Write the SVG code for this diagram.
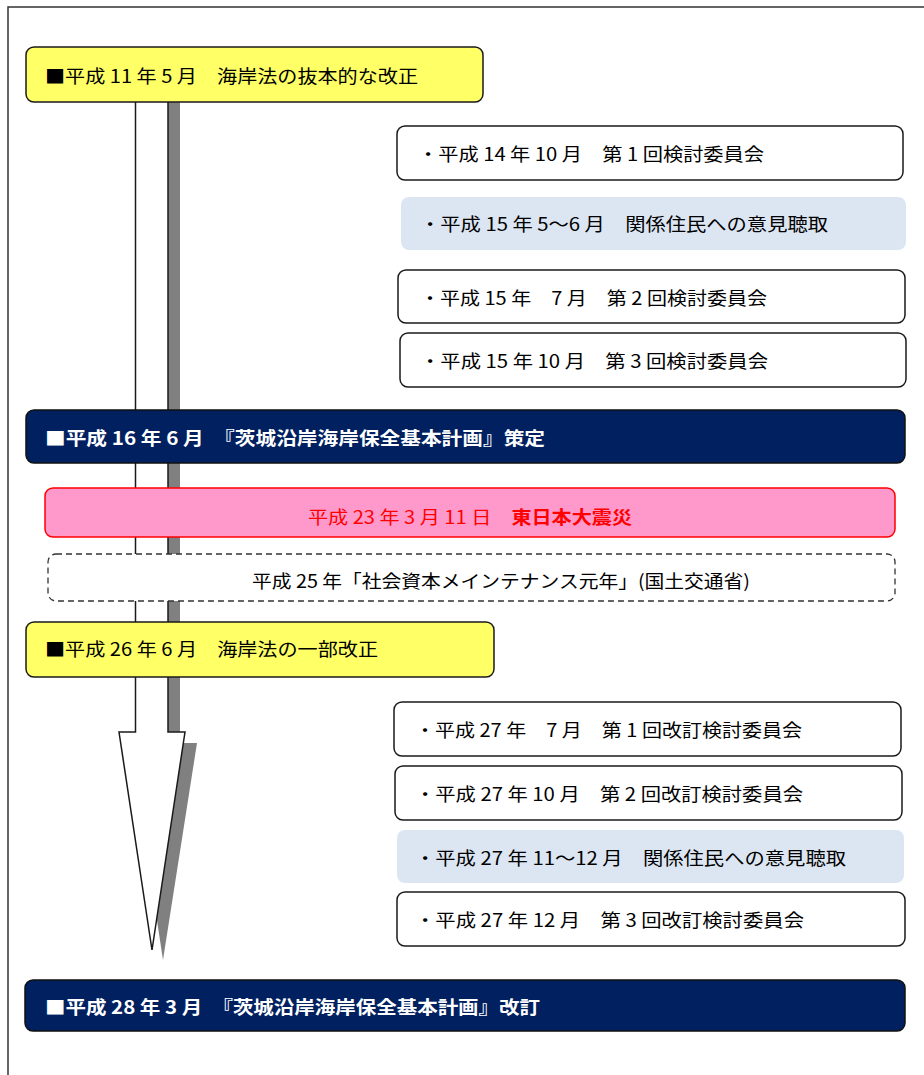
<svg xmlns="http://www.w3.org/2000/svg" width="924" height="1075" viewBox="0 0 924 1075">
<style>
text{font-family:"Noto Sans CJK JP","Liberation Sans",sans-serif;font-size:18px;fill:#000;dominant-baseline:central}
.box{fill:#fff;stroke:#1a1a1a;stroke-width:1.5}
.blue{fill:#DCE6F2;stroke:none}
.yel{fill:#FFFF66;stroke:#1a1a1a;stroke-width:1.5}
.navy{fill:#002060;stroke:#111;stroke-width:1.5}
.navy-t{fill:#fff;font-weight:bold}
.pink{fill:#FF99CC;stroke:#FF0000;stroke-width:1.5}
.dash{fill:#fff;stroke:#333;stroke-width:1.3;stroke-dasharray:6 4}
</style>
<rect x="8" y="7" width="940" height="1100" fill="#fff" stroke="#333" stroke-width="1.5"/>
<g id="connectors">
<path d="M180,100 L180,743 L197,743 L163,960 L130,743 L146.5,743 L146.5,100 Z" fill="#808080"/>
<path d="M135.5,100 L135.5,732 L119,732 L152,950 L185,732 L168,732 L168,100" fill="#fff" stroke="#1a1a1a" stroke-width="1.5" stroke-linejoin="miter"/>
</g>
<g id="n1"><rect class="yel" x="26" y="47" width="457" height="55" rx="8"/><text x="45" y="75" textLength="373" lengthAdjust="spacingAndGlyphs">■平成 11 年 5 月　海岸法の抜本的な改正</text></g>
<g id="n2"><rect class="box" x="397" y="126" width="506" height="54" rx="8"/><text x="418" y="153" textLength="346" lengthAdjust="spacingAndGlyphs">・平成 14 年 10 月　第 1 回検討委員会</text></g>
<g id="n3"><rect class="blue" x="401" y="197" width="505" height="53" rx="8"/><text x="420" y="223" textLength="408" lengthAdjust="spacingAndGlyphs">・平成 15 年 5～6 月　関係住民への意見聴取</text></g>
<g id="n4"><rect class="box" x="398" y="270" width="507" height="53" rx="8"/><text x="420" y="297" textLength="347" lengthAdjust="spacingAndGlyphs">・平成 15 年　7 月　第 2 回検討委員会</text></g>
<g id="n5"><rect class="box" x="400" y="333" width="506" height="54" rx="8"/><text x="420" y="360" textLength="348" lengthAdjust="spacingAndGlyphs">・平成 15 年 10 月　第 3 回検討委員会</text></g>
<g id="n6"><rect class="navy" x="26" y="410" width="879" height="53" rx="8"/><text class="navy-t" x="45" y="437" textLength="500" lengthAdjust="spacingAndGlyphs">■平成 16 年 6 月　『茨城沿岸海岸保全基本計画』策定</text></g>
<g id="n7"><rect class="pink" x="45" y="488" width="850" height="49" rx="8"/><text x="308" y="516" textLength="324" lengthAdjust="spacingAndGlyphs" style="fill:#FF0000">平成 23 年 3 月 11 日　<tspan font-weight="bold" style="fill:#FF0000">東日本大震災</tspan></text></g>
<g id="n8"><rect class="dash" x="48" y="554" width="847" height="47" rx="8"/><text x="252" y="580" textLength="498" lengthAdjust="spacingAndGlyphs">平成 25 年「社会資本メインテナンス元年」(国土交通省)</text></g>
<g id="n9"><rect class="yel" x="26" y="622" width="468" height="55" rx="8"/><text x="45" y="648" textLength="333" lengthAdjust="spacingAndGlyphs">■平成 26 年 6 月　海岸法の一部改正</text></g>
<g id="n10"><rect class="box" x="394" y="702" width="507" height="54" rx="8"/><text x="415" y="729" textLength="387" lengthAdjust="spacingAndGlyphs">・平成 27 年　7 月　第 1 回改訂検討委員会</text></g>
<g id="n11"><rect class="box" x="395" y="766" width="507" height="54" rx="8"/><text x="415" y="793" textLength="388" lengthAdjust="spacingAndGlyphs">・平成 27 年 10 月　第 2 回改訂検討委員会</text></g>
<g id="n12"><rect class="blue" x="397" y="830" width="507" height="53" rx="8"/><text x="415" y="857" textLength="431" lengthAdjust="spacingAndGlyphs">・平成 27 年 11～12 月　関係住民への意見聴取</text></g>
<g id="n13"><rect class="box" x="397" y="892" width="508" height="54" rx="8"/><text x="415" y="919" textLength="389" lengthAdjust="spacingAndGlyphs">・平成 27 年 12 月　第 3 回改訂検討委員会</text></g>
<g id="n14"><rect class="navy" x="25" y="980" width="880" height="51" rx="8"/><text class="navy-t" x="45" y="1006" textLength="495" lengthAdjust="spacingAndGlyphs">■平成 28 年 3 月　『茨城沿岸海岸保全基本計画』改訂</text></g>
</svg>
